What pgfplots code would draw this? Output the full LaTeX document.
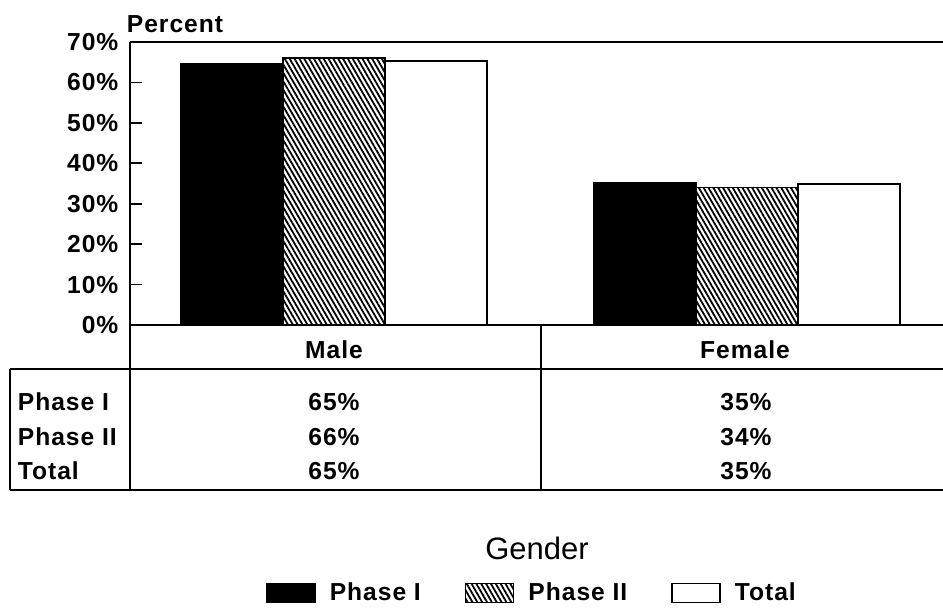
\documentclass[border=0pt]{standalone}
\usepackage{fontspec}
\setmainfont{Liberation Sans}
\newfontfamily\lbl[LetterSpace=4]{Liberation Sans}
\usepackage{pgfplots}
\pgfplotsset{compat=1.18}
\usetikzlibrary{patterns.meta}
\newcommand\lb{\lbl\bfseries\fontsize{12.3}{14}\selectfont}
\pgfplotsset{mylegend/.style={legend image code/.code={\draw[##1, line width=0.8pt] (0pt,-4.75pt) rectangle (24pt,4.75pt);}}}
\begin{document}
\begin{tikzpicture}
\path[use as bounding box] (0,0) rectangle (471.5pt,-303.5pt);
\begin{axis}[
  at={(65pt,-162.5pt)}, anchor=south west,
  scale only axis, width=406.5pt, height=141.5pt,
  xmin=-0.494, xmax=1.4746, ymin=0, ymax=70,
  axis line style={draw=none},
  xtick=\empty,
  ytick={0,10,...,70},
  yticklabels={0\%,10\%,20\%,30\%,40\%,50\%,60\%,70\%},
  ytick pos=left, tick align=inside, major tick length=6pt,
  tick style={line width=0.9pt, black},
  yticklabel style={font=\lb, xshift=-2.3pt},
  ybar=0pt, bar width=51pt,
  clip=false,
  legend style={at={(axis description cs:0.4957,-0.947)}, anchor=center, draw=none, fill=none,
    font=\lb, /tikz/every even column/.append style={column sep=20pt},
    /tikz/every odd column/.append style={column sep=5pt}},
  legend columns=3,
]
\addplot[fill=black, draw=black, line width=0.8pt, mylegend] coordinates {(0,64.6) (1,35.3)};
\addlegendentry{Phase I}
\addplot[pattern={Lines[angle=-60,distance=2.1pt,line width=0.9pt]}, pattern color=black, draw=black, line width=0.8pt, mylegend] coordinates {(0,66.0) (1,34.0)};
\addlegendentry{Phase II}
\addplot[fill=white, draw=black, line width=0.8pt, mylegend] coordinates {(0,65.3) (1,34.9)};
\addlegendentry{Total}
\end{axis}
\begin{scope}[x=0.5pt, y=-0.5pt, line width=0.9pt]
  \draw (130,42) -- (130,490);
  \draw (130,42) -- (943,42);
  \draw (130,325) -- (943,325);
  \draw (10,369) -- (943,369);
  \draw (10,369) -- (10,490);
  \draw (10,490) -- (943,490);
  \draw (541,325) -- (541,490);
  \node[anchor=base west, inner sep=0, font=\lb] at (126,32) {Percent};
  \node[anchor=base, inner sep=0, font=\lb] at (334,358) {Male};
  \node[anchor=base, inner sep=0, font=\lb] at (745,358) {Female};
  \node[anchor=base west, inner sep=0, font=\lb] at (17,410) {Phase I};
  \node[anchor=base west, inner sep=0, font=\lb] at (17,445) {Phase II};
  \node[anchor=base west, inner sep=0, font=\lb] at (17,479) {Total};
  \node[anchor=base, inner sep=0, font=\lb] at (334,410) {65\%};
  \node[anchor=base, inner sep=0, font=\lb] at (334,445) {66\%};
  \node[anchor=base, inner sep=0, font=\lb] at (334,479) {65\%};
  \node[anchor=base, inner sep=0, font=\lb] at (746,410) {35\%};
  \node[anchor=base, inner sep=0, font=\lb] at (746,445) {34\%};
  \node[anchor=base, inner sep=0, font=\lb] at (746,479) {35\%};
  \node[anchor=base, inner sep=0, font=\fontsize{15.5}{18}\selectfont] at (537,559) {Gender};
\end{scope}
\end{tikzpicture}
\end{document}
